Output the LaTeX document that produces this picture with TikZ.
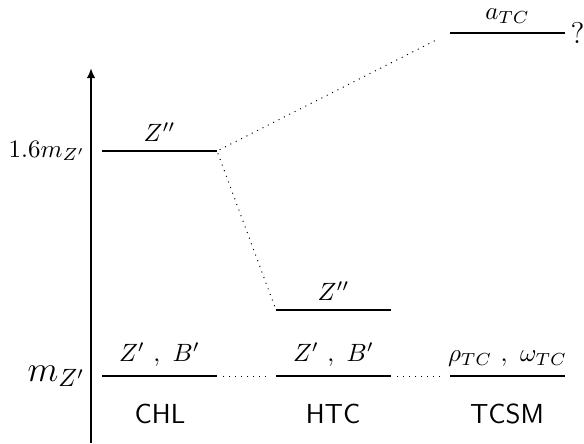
\documentclass[tikz,border=0pt]{standalone}
\usepackage{amsmath, amssymb}
\usetikzlibrary{arrows.meta, positioning}

\begin{document}
\begin{tikzpicture}[x=0.4pt, y=-0.4pt, font=\normalsize]
    \tikzstyle{massline}=[line width=0.8pt]
    \tikzstyle{mixing}=[dotted, line width=0.4pt]
    \tikzstyle{model}=[font=\sffamily\fontsize{11}{13}\selectfont]
    \useasboundingbox (0,0) rectangle (584,443);

    % mass axis
    \coordinate (axbot) at (91,443);
    \coordinate (axtop) at (91,68);
    \coordinate (axheavy) at (91,151);
    \coordinate (axbase) at (91,376);
    \draw[line width=0.8pt, -{Latex[length=4pt, width=3.4pt]}] (axbot) -- (axtop);
    \node[left=0pt of axheavy, inner sep=2pt] (heavy) {$1.6m_{Z'}$};
    \node[left=0pt of axbase, inner sep=2pt, font=\Large] (base) {$m_{Z'}$};

    % level end points
    \coordinate (chlZw) at (102,376);  \coordinate (chlZe) at (217,376);
    \coordinate (chlZZw) at (102,151); \coordinate (chlZZe) at (217,151);
    \coordinate (htcZw) at (276,376);  \coordinate (htcZe) at (391,376);
    \coordinate (htcZZw) at (276,310); \coordinate (htcZZe) at (391,310);
    \coordinate (tcRw) at (450,376);   \coordinate (tcRe) at (565,376);
    \coordinate (tcAw) at (450,33);    \coordinate (tcAe) at (565,33);

    % levels
    \draw[massline] (chlZw) -- (chlZe) node[midway, above] (chlZlab) {$Z'\ ,\ B'$};
    \draw[massline] (chlZZw) -- (chlZZe) node[midway, above] (chlZZlab) {$Z''$};
    \draw[massline] (htcZw) -- (htcZe) node[midway, above] (htcZlab) {$Z'\ ,\ B'$};
    \draw[massline] (htcZZw) -- (htcZZe) node[midway, above] (htcZZlab) {$Z''$};
    \draw[massline] (tcRw) -- (tcRe) node[midway, above] (tcRlab) {$\rho_{TC}\ ,\ \omega_{TC}$};
    \draw[massline] (tcAw) -- (tcAe) node[midway, above] (tcAlab) {$a_{TC}$};
    \node[right=0pt of tcAe, inner sep=2pt, font=\large] (unknown) {?};

    % links between models
    \draw[mixing, shorten <=2.4pt, shorten >=2.4pt] (chlZe) -- (htcZw);
    \draw[mixing, shorten <=2.4pt, shorten >=2.4pt] (htcZe) -- (tcRw);
    \draw[mixing, shorten <=1pt, shorten >=1pt] (chlZZe) -- (htcZZw);
    \draw[mixing, shorten <=1.2pt, shorten >=5pt] (chlZZe) -- (tcAw);

    % model names
    \node[model] (chl) at (160,414) {CHL};
    \node[model] (htc) at (333,414) {HTC};
    \node[model] (tcsm) at (507,414) {TCSM};
\end{tikzpicture}
\end{document}
